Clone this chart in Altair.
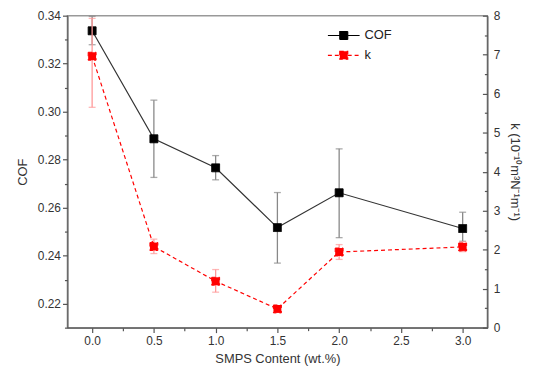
import altair as alt
import pandas as pd

# ---- data ----
x_vals = [0.0, 0.5, 1.0, 1.5, 2.0, 3.0]
cof = [0.3337, 0.2887, 0.2766, 0.2517, 0.2662, 0.2513]
cof_lo = [0.3279, 0.2726, 0.2716, 0.2369, 0.2475, 0.2460]
cof_hi = [0.3397, 0.3048, 0.2817, 0.2663, 0.2845, 0.2581]
k_vals = [6.96, 2.08, 1.19, 0.48, 1.94, 2.07]
k_lo = [5.65, 1.90, 0.91, 0.40, 1.75, 1.95]
k_hi = [7.93, 2.27, 1.49, 0.56, 2.13, 2.20]

series_names = ["COF", "k"]
series_colors = ["#000000", "#ff0000"]

x_ticks = [0.0, 0.25, 0.5, 0.75, 1.0, 1.25, 1.5, 1.75, 2.0, 2.25, 2.5, 2.75, 3.0]
y_ticks = [0.21, 0.22, 0.23, 0.24, 0.25, 0.26, 0.27, 0.28, 0.29, 0.30,
           0.31, 0.32, 0.33, 0.34]
k_ticks = [0, 0.5, 1, 1.5, 2, 2.5, 3, 3.5, 4, 4.5, 5, 5.5, 6, 6.5, 7, 7.5, 8]

df_cof = pd.DataFrame({"x": x_vals, "v": cof, "lo": cof_lo, "hi": cof_hi,
                       "series": "COF"})
df_k = pd.DataFrame({"x": x_vals, "v": k_vals, "lo": k_lo, "hi": k_hi,
                     "series": "k"})

FONT = "Liberation Sans"
AX = "#555555"
K_TITLE = "k (10⁻¹⁰m³N⁻¹m⁻¹)"

x_enc = alt.X(
    "x:Q",
    scale=alt.Scale(domain=[-0.2, 3.2], nice=False, zero=False),
    axis=alt.Axis(
        values=x_ticks,
        labelExpr="round(datum.value*4) % 2 == 1 ? '' : format(datum.value, '.1f')",
        tickSize={"condition": {"test": "round(datum.value*4) % 2 == 1", "value": 3}, "value": 5},
        labelOverlap=False,
        title="SMPS Content (wt.%)",
        grid=False,
        labelPadding=3,
        titlePadding=6,
    ),
)

y_cof_scale = alt.Scale(domain=[0.21, 0.34], nice=False, zero=False)
y_k_scale = alt.Scale(domain=[0, 8], nice=False, zero=False)

cof_axis = alt.Axis(
    orient="left",
    values=y_ticks,
    labelExpr="round(datum.value*100) % 2 == 1 ? '' : format(datum.value, '.2f')",
    tickSize={"condition": {"test": "round(datum.value*100) % 2 == 1", "value": 3}, "value": 5},
    labelOverlap=False,
    title="COF",
    grid=False,
    titlePadding=8,
)
k_axis = alt.Axis(
    orient="right",
    values=k_ticks,
    labelExpr="round(datum.value*2) % 2 == 1 ? '' : format(datum.value, 'd')",
    tickSize={"expr": "round(datum.value*2) % 2 == 1 ? -3 : -5"},
    labelOverlap=False,
    labelPadding=11,
    title=K_TITLE,
    grid=False,
    titlePadding=8,
)

leg_path = "M-2,0L-0.5,0M0.5,0L2,0M-0.5,-0.5L0.5,-0.5L0.5,0.5L-0.5,0.5Z"

fill_scale = alt.Scale(domain=series_names, range=series_colors)
dash_scale = alt.Scale(domain=series_names, range=[[1, 0], [4, 3]])

legend = alt.Legend(
    title=None,
    orient="none",
    legendX=270,
    legendY=11,
    symbolType=leg_path,
    symbolSize=256,
    symbolStrokeWidth=1.2,
    labelFontSize=13,
    labelFont=FONT,
    labelColor="#222222",
    rowPadding=4,
    labelOffset=12,
)

# COF layer
cof_line = alt.Chart(df_cof).mark_line(color="#333333", strokeWidth=1.2).encode(
    x=x_enc, y=alt.Y("v:Q", scale=y_cof_scale, axis=cof_axis)
)
cof_err = alt.Chart(df_cof).mark_errorbar(
    ticks={"size": 7, "color": "#888888"}, color="#888888", thickness=1.3
).encode(x=x_enc, y=alt.Y("lo:Q", scale=y_cof_scale, axis=cof_axis), y2="hi:Q")
cof_pts = alt.Chart(df_cof).mark_point(
    filled=True, shape="square", size=64, opacity=1, strokeWidth=1
).encode(
    x=x_enc,
    y=alt.Y("v:Q", scale=y_cof_scale, axis=cof_axis),
    fill=alt.Fill("series:N", scale=fill_scale, legend=legend),
    stroke=alt.Stroke("series:N", scale=fill_scale, legend=legend),
    strokeDash=alt.StrokeDash("series:N", scale=dash_scale, legend=legend),
)
cof_layer = alt.layer(cof_err, cof_line, cof_pts)

# k layer
k_line = alt.Chart(df_k).mark_line(color="#ff0000", strokeWidth=1.2, strokeDash=[4, 3]).encode(
    x=x_enc, y=alt.Y("v:Q", scale=y_k_scale, axis=k_axis)
)
k_err = alt.Chart(df_k).mark_errorbar(
    ticks={"size": 7, "color": "#ff9999"}, color="#ff9999", thickness=1.3
).encode(x=x_enc, y=alt.Y("lo:Q", scale=y_k_scale, axis=k_axis), y2="hi:Q")
k_pts = alt.Chart(df_k).mark_point(
    filled=True, shape="square", size=64, opacity=1, strokeWidth=1
).encode(
    x=x_enc,
    y=alt.Y("v:Q", scale=y_k_scale, axis=k_axis),
    fill=alt.Fill("series:N", scale=fill_scale, legend=legend),
    stroke=alt.Stroke("series:N", scale=fill_scale, legend=legend),
    strokeDash=alt.StrokeDash("series:N", scale=dash_scale, legend=legend),
)
k_layer = alt.layer(k_err, k_line, k_pts)

chart = (
    alt.layer(cof_layer, k_layer)
    .resolve_scale(y="independent")
    .properties(
        width=424,
        height=315,
        autosize=alt.AutoSizeParams(type="none"),
        padding={"left": 60, "top": 6, "right": 38, "bottom": 41},
    )
    .configure_view(stroke="#999999", strokeWidth=1.5)
    .configure_axis(
        domainColor=AX,
        tickColor=AX,
        domainWidth=1.2,
        tickWidth=1.2,
        labelFont=FONT,
        titleFont=FONT,
        labelFontSize=12,
        titleFontSize=13,
        labelColor="#333333",
        titleColor="#333333",
        titleFontWeight="normal",
    )
)

chart.save("out.html", embed_options={"renderer": "svg", "actions": False})
